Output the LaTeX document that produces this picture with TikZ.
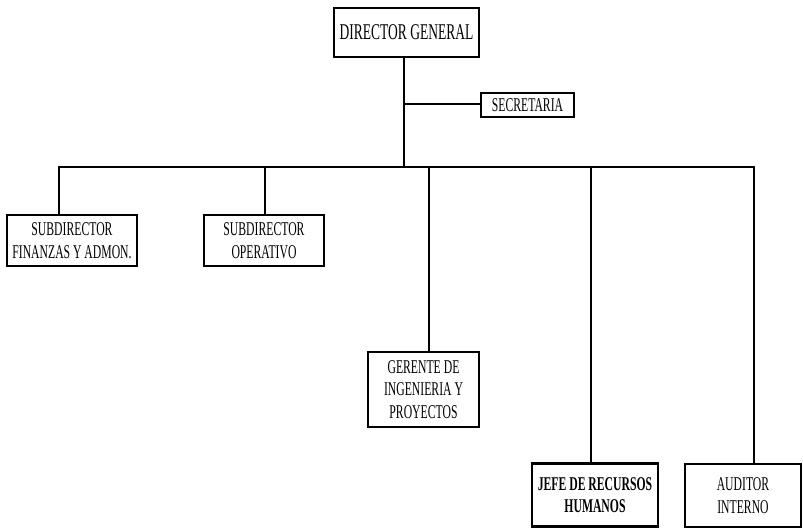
\documentclass[tikz,border=0pt]{standalone}
\usepackage{fontspec}
\setmainfont{Liberation Serif}[FakeStretch=0.6]
\begin{document}
\begin{tikzpicture}[x=1pt,y=-1pt,
  box/.style={draw, line width=1.3pt, inner sep=0pt, align=center,
    font=\fontsize{19.5}{22.5}\selectfont},
  thickbox/.style={box, line width=2.8pt, font=\fontsize{19.5}{22.5}\bfseries\selectfont},
  link/.style={line width=1.6pt}]
\useasboundingbox (0,0) rectangle (803,528);
\node[box, minimum width=145pt, minimum height=49pt, font=\fontsize{22.5}{24}\selectfont] (dg) at (406.5,32.5) {DIRECTOR GENERAL};
\node[box, minimum width=93pt, minimum height=24pt] (sec) at (527.5,105) {SECRETARIA};
\node[box, minimum width=130pt, minimum height=51pt] (sf) at (72,240.5) {SUBDIRECTOR\\FINANZAS Y ADMON.};
\node[box, minimum width=120pt, minimum height=51pt] (so) at (264,240.5) {SUBDIRECTOR\\OPERATIVO};
\node[box, minimum width=111pt, minimum height=75pt] (ger) at (423.5,389.5) {GERENTE DE\\INGENIERIA Y\\PROYECTOS};
\node[thickbox, minimum width=126pt, minimum height=63pt] (jefe) at (595,495) {JEFE DE RECURSOS\\HUMANOS};
\node[box, minimum width=116pt, minimum height=63pt] (aud) at (743,495.5) {AUDITOR\\INTERNO};
\coordinate (top) at (404,57);
\coordinate (sj) at (404,104);
\coordinate (hub) at (404,167);
\coordinate (b1) at (59,167);
\coordinate (b2) at (265,167);
\coordinate (b3) at (429,167);
\coordinate (b4) at (591,167);
\coordinate (b5) at (754,167);
\draw[link] (top |- dg.south) -- (hub);
\draw[link] (sj) -- (sj -| sec.west);
\draw[link] (b1 |- sf.north) -- (b1) -- (b5) -- (b5 |- aud.north);
\draw[link] (b2) -- (b2 |- so.north);
\draw[link] (b3) -- (b3 |- ger.north);
\draw[link] (b4) -- (b4 |- jefe.north);
\end{tikzpicture}
\end{document}
